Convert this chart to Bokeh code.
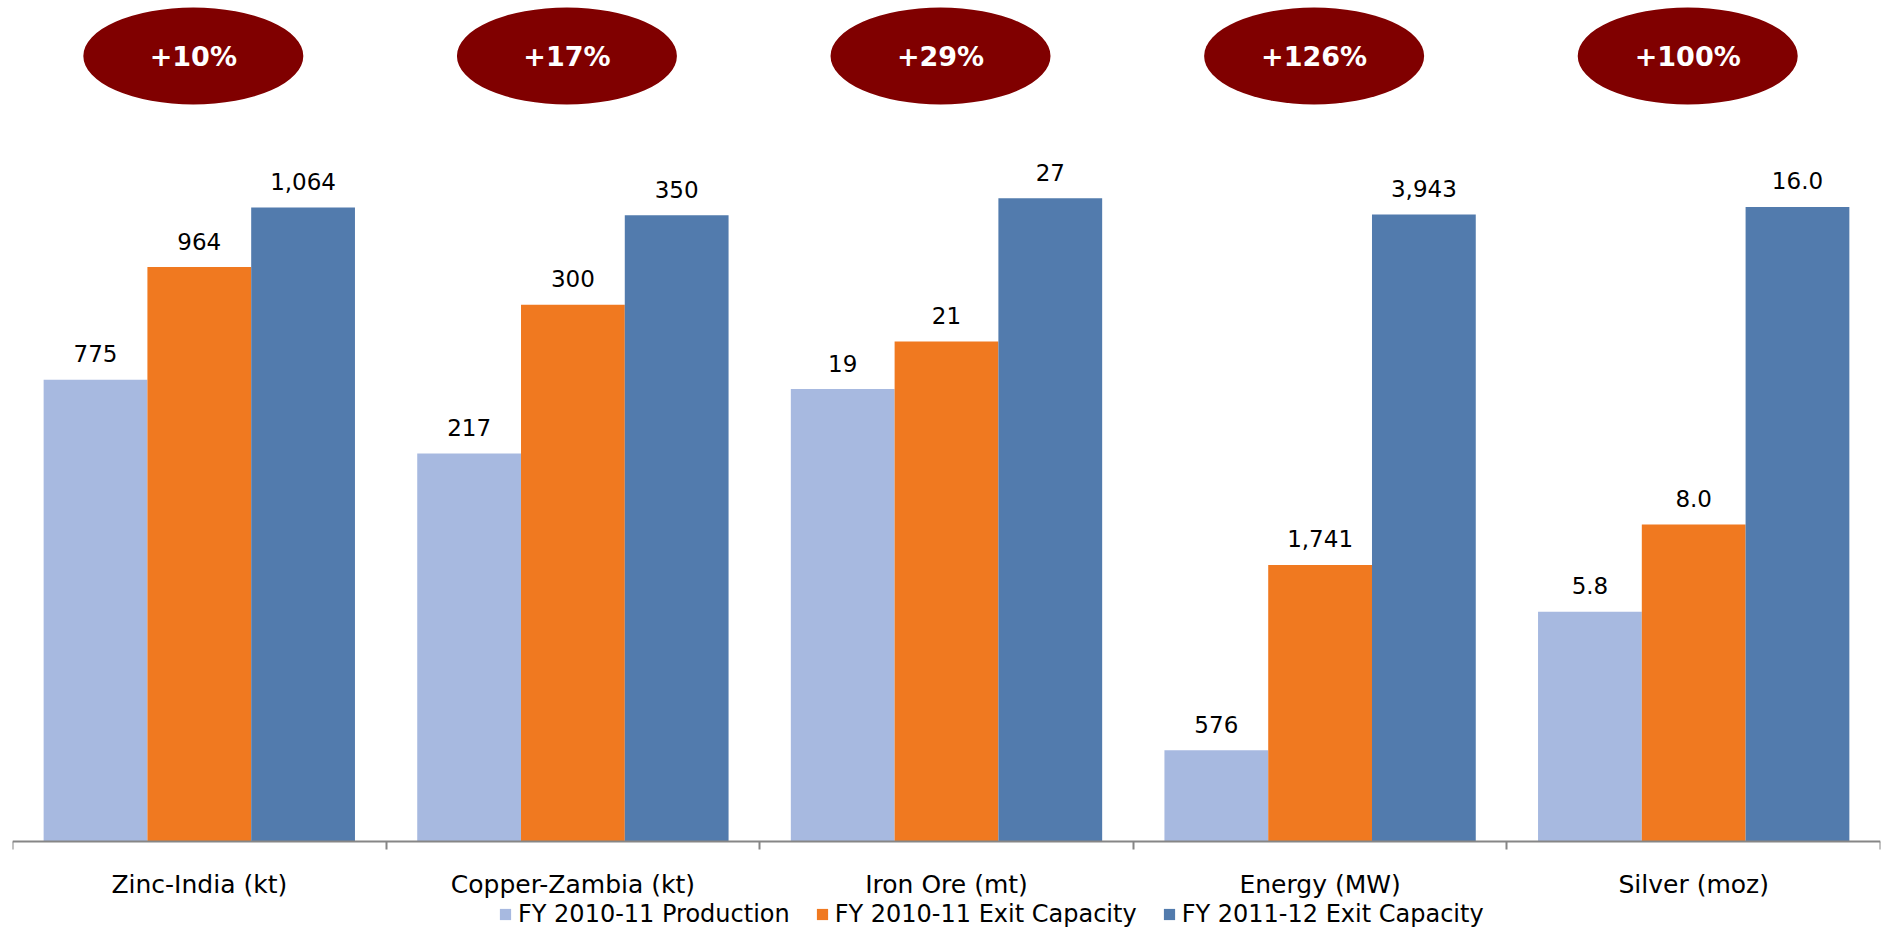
from bokeh.plotting import figure
from bokeh.models import Range1d, LinearAxis, FixedTicker, ColumnDataSource, Legend, LegendItem
from bokeh.core.properties import value
from bokeh.embed import file_html
from bokeh.resources import INLINE

# ---------------- data ----------------
categories = ["Zinc-India (kt)", "Copper-Zambia (kt)", "Iron Ore (mt)", "Energy (MW)", "Silver (moz)"]
series_names = ["FY 2010-11 Production", "FY 2010-11 Exit Capacity", "FY 2011-12 Exit Capacity"]
production_2010_11 = [775, 217, 19, 576, 5.8]
exit_capacity_2010_11 = [964, 300, 21, 1741, 8.0]
exit_capacity_2011_12 = [1064, 350, 27, 3943, 16.0]
label_decimals = [0, 0, 0, 0, 1]
growth_labels = ["+10%", "+17%", "+29%", "+126%", "+100%"]
# each group is drawn on its own scale (value reaching the top of the plot area)
group_axis_max = [1411, 470, 35.3, 5288, 21.2]

series_values = [production_2010_11, exit_capacity_2010_11, exit_capacity_2011_12]
series_colors = ["#A7B9E0", "#F07920", "#527BAD"]

FONT = "DejaVu Sans"
n = len(categories)

p = figure(width=1885, height=930, output_backend="svg", toolbar_location=None,
           x_axis_type=None, y_axis_type=None,
           x_range=Range1d(0, n), y_range=Range1d(-0.10517, 1),
           min_border_left=12, min_border_right=5, min_border_top=0, min_border_bottom=0)
p.outline_line_color = None
p.background_fill_color = "white"
p.border_fill_color = "white"


def fmt(v, d):
    return f"{v:,.{d}f}"


bar_w = 5 / 18
offsets = [-5 / 18, 0, 5 / 18]
items = []
for s, (vals, color, name) in enumerate(zip(series_values, series_colors, series_names)):
    src = ColumnDataSource(dict(
        x=[i + 0.5 + offsets[s] for i in range(n)],
        top=[v / m for v, m in zip(vals, group_axis_max)],
        label=[fmt(v, d) for v, d in zip(vals, label_decimals)],
    ))
    r = p.vbar(x="x", top="top", bottom=0, width=bar_w, source=src,
               fill_color=color, line_color=None)
    p.text(x="x", y="top", text="label", source=src, text_align="center",
           text_baseline="alphabetic", y_offset=-26, text_font=value(FONT),
           text_font_size="23px", text_color="black")
    items.append(LegendItem(label=name, renderers=[r]))

# growth ellipses
ell = ColumnDataSource(dict(x=[i + 0.5 - 0.016 for i in range(n)], y=[0.934] * n, label=growth_labels))
p.ellipse(x="x", y="y", width=220, height=97, width_units="screen", height_units="screen",
          fill_color="#800000", line_color=None, source=ell)
p.text(x="x", y="y", text="label", source=ell, text_align="center", text_baseline="middle",
       text_color="white", text_font=value(FONT), text_font_style="bold", text_font_size="27px")

# category axis line with group separators (drawn at value 0)
axis = LinearAxis(ticker=FixedTicker(ticks=[], minor_ticks=list(range(n + 1))), fixed_location=0)
axis.axis_line_color = "#868686"
axis.axis_line_width = 2
axis.major_tick_line_color = None
axis.major_tick_out = 0
axis.major_tick_in = 0
axis.major_label_standoff = 0
axis.minor_tick_line_color = "#868686"
axis.minor_tick_line_width = 2
axis.minor_tick_out = 0
axis.minor_tick_in = 8
p.add_layout(axis, "above")

# category names under the axis
cat_src = ColumnDataSource(dict(x=[i + 0.5 for i in range(n)], y=[0] * n, label=categories))
p.text(x="x", y="y", text="label", source=cat_src, text_align="center", text_baseline="middle",
       y_offset=43, text_font=value(FONT), text_font_size="25px", text_color="black")

legend = Legend(items=items, orientation="horizontal", location=(486, 2),
                glyph_width=14, glyph_height=14, label_standoff=6, spacing=25,
                padding=0, margin=0, border_line_color=None, background_fill_alpha=0,
                label_text_font=FONT, label_text_font_size="24px", label_text_color="black")
p.add_layout(legend)

open("out.html", "w").write(file_html(p, INLINE))
